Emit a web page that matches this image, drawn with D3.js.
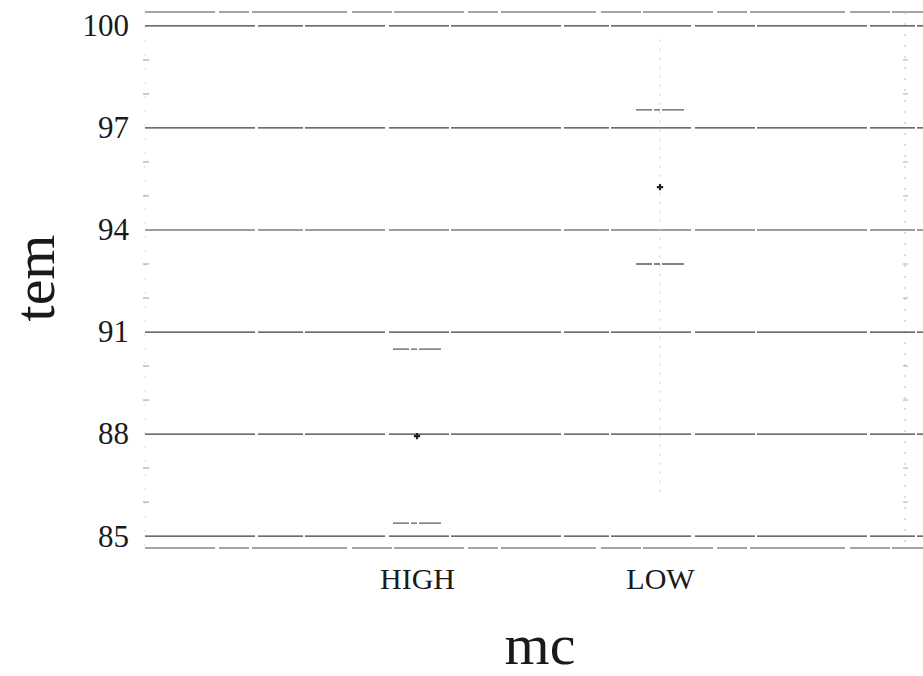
<!DOCTYPE html>
<html>
<head>
<meta charset="utf-8">
<script src="https://cdn.jsdelivr.net/npm/d3@7"></script>
<style>
  html, body { margin: 0; padding: 0; background: #fff; }
  svg { display: block; }
  text { font-family: "Liberation Serif", "DejaVu Serif", serif; fill: #1a1a1a; }
</style>
</head>
<body>
<svg id="chart" width="923" height="676"></svg>
<script>
// Group means of tem by mc, with upper / lower error limits
const categories = ["HIGH", "LOW"];
const means      = [87.94, 95.26];
const upper      = [90.50, 97.53];
const lower      = [85.38, 93.00];
const yTicks     = [85, 88, 91, 94, 97, 100];
const yMinor     = [86, 87, 89, 90, 92, 93, 95, 96, 98, 99];

const svg = d3.select("#chart");
const panel = { left: 145, right: 923, top: 12, bottom: 548 };

const y = d3.scaleLinear().domain([84.65, 100.41]).range([panel.bottom, panel.top]);
const x = d3.scalePoint().domain(categories).range([174, 903]).padding(1);

// slightly broken strokes for the panel lines
const gridDash = "110 3 45 2 80 4 60 2";

// panel border lines (top and bottom)
svg.append("g").selectAll("line")
  .data([y.domain()[1], y.domain()[0]])
  .join("line")
  .attr("x1", panel.left).attr("x2", panel.right)
  .attr("y1", d => y(d)).attr("y2", d => y(d))
  .attr("stroke", "#4d4d4d").attr("stroke-width", 1.2)
  .attr("stroke-dasharray", "70 4 30 3 95 5 40 2");

// right-hand frame edge, faint
svg.append("line")
  .attr("x1", 905).attr("x2", 905)
  .attr("y1", y(y.domain()[1])).attr("y2", y(y.domain()[0]))
  .attr("stroke", "#bbb").attr("stroke-width", 1)
  .attr("stroke-dasharray", "2 9");

// left frame edge, faint
svg.append("line")
  .attr("x1", panel.left).attr("x2", panel.left)
  .attr("y1", y(y.domain()[1])).attr("y2", y(y.domain()[0]))
  .attr("stroke", "#ddd").attr("stroke-width", 1)
  .attr("stroke-dasharray", "2 12");

// horizontal grid at every labelled value
svg.append("g").selectAll("line")
  .data(yTicks)
  .join("line")
  .attr("x1", panel.left).attr("x2", panel.right)
  .attr("y1", d => y(d)).attr("y2", d => y(d))
  .attr("stroke", "#3f3f3f").attr("stroke-width", 1.2)
  .attr("stroke-dasharray", gridDash);

// minor tick marks on both frame edges
const minor = svg.append("g");
minor.selectAll("line.l")
  .data(yMinor).join("line").attr("class", "l")
  .attr("x1", panel.left - 2).attr("x2", panel.left + 4)
  .attr("y1", d => y(d)).attr("y2", d => y(d))
  .attr("stroke", "#999").attr("stroke-width", 1);
minor.selectAll("line.r")
  .data(yMinor).join("line").attr("class", "r")
  .attr("x1", 903).attr("x2", 908)
  .attr("y1", d => y(d)).attr("y2", d => y(d))
  .attr("stroke", "#aaa").attr("stroke-width", 1);

// y axis labels
const yAxis = d3.axisLeft(y).tickValues(yTicks).tickSize(0).tickPadding(16);
const gy = svg.append("g").attr("transform", `translate(${panel.left},0)`).call(yAxis);
gy.select(".domain").remove();
gy.selectAll("text")
  .style("font-family", "'Liberation Serif', serif")
  .style("font-size", "31px")
  .attr("fill", "#1a1a1a");

// x axis category labels
const xAxis = d3.axisBottom(x).tickSize(0).tickPadding(20);
const gx = svg.append("g").attr("transform", `translate(0,${panel.bottom})`).call(xAxis);
gx.select(".domain").remove();
gx.selectAll("text")
  .style("font-family", "'Liberation Serif', serif")
  .style("font-size", "30px")
  .attr("fill", "#1a1a1a");

// faint vertical trace through the LOW group
svg.append("line")
  .attr("x1", x("LOW")).attr("x2", x("LOW"))
  .attr("y1", y(99.6)).attr("y2", y(86.2))
  .attr("stroke", "#c8c8c8").attr("stroke-width", 1)
  .attr("stroke-dasharray", "2 7");

// error-bar caps
const capHalf = 24;
const data = categories.map((c, i) => ({ c, m: means[i], hi: upper[i], lo: lower[i] }));
const g = svg.append("g");
["hi", "lo"].forEach(k => {
  g.selectAll("line.cap-" + k)
    .data(data).join("line").attr("class", "cap-" + k)
    .attr("x1", d => x(d.c) - capHalf).attr("x2", d => x(d.c) + capHalf)
    .attr("y1", d => y(d[k])).attr("y2", d => y(d[k]))
    .attr("stroke", "#5a5a5a").attr("stroke-width", 1.3)
    .attr("stroke-dasharray", "16 2 6 2 22");
});

// mean markers
g.selectAll("path.mean")
  .data(data).join("path").attr("class", "mean")
  .attr("d", d3.symbol(d3.symbolCross, 22))
  .attr("transform", d => `translate(${x(d.c)},${y(d.m)})`)
  .attr("fill", "#222");

// axis titles
svg.append("text")
  .attr("x", 540).attr("y", 664)
  .attr("text-anchor", "middle")
  .style("font-size", "58px")
  .text("mc");

svg.append("text")
  .attr("transform", `translate(54,278) rotate(-90)`)
  .attr("text-anchor", "middle")
  .style("font-size", "58px")
  .text("tem");
</script>
</body>
</html>
